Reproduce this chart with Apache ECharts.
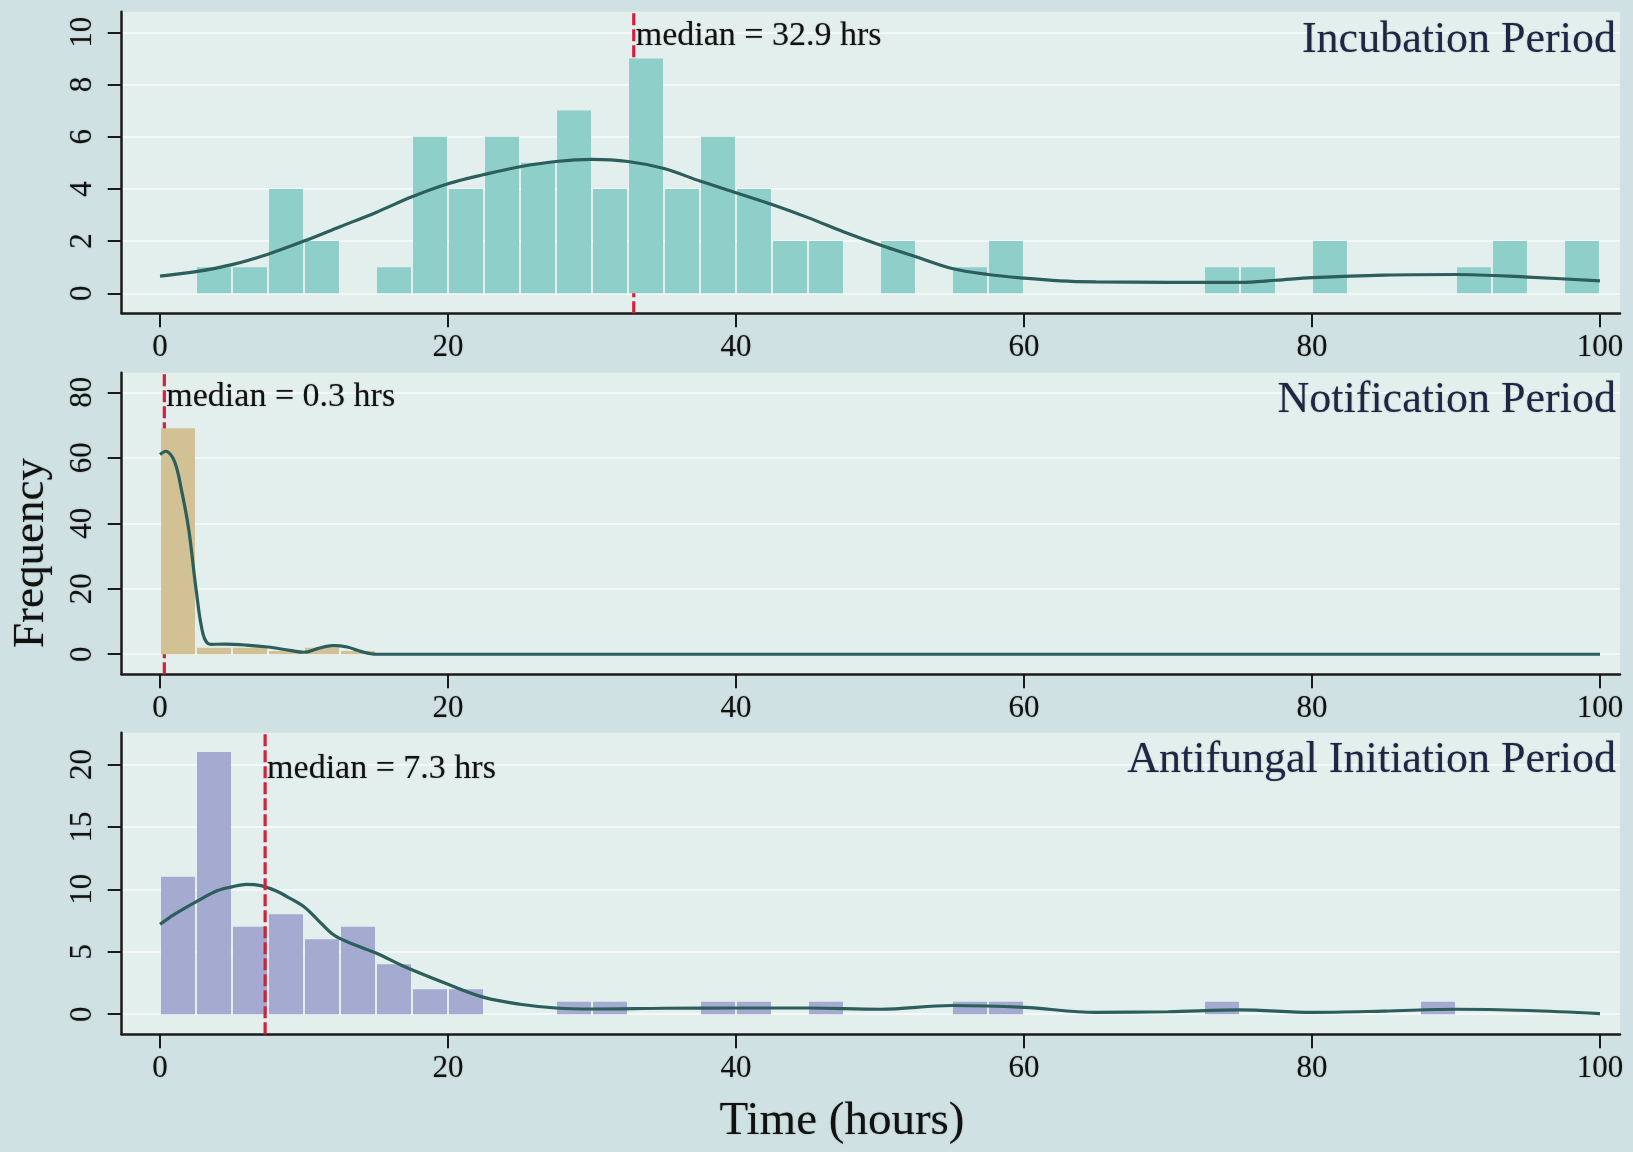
<!DOCTYPE html>
<html>
<head>
<meta charset="utf-8">
<script src="https://cdn.jsdelivr.net/npm/echarts@6/dist/echarts.min.js"></script>
<style>
html,body{margin:0;padding:0;background:#cfe1e2;}
#c{width:1633px;height:1152px;}
</style>
</head>
<body>
<div id="c"></div>
<script>
// ---------------- DATA ----------------
const BIN_WIDTH = 2.5;
const binStarts = [0,2.5,5,7.5,10,12.5,15,17.5,20,22.5,25,27.5,30,32.5,35,37.5,40,42.5,45,47.5,
                   50,52.5,55,57.5,60,62.5,65,67.5,70,72.5,75,77.5,80,82.5,85,87.5,90,92.5,95,97.5];

const incubationCounts   = [0,1,1,4,2,0,1,6,4,6,5,7,4,9,4,6,4,2,2,0,
                            2,0,1,2,0,0,0,0,0,1,1,0,2,0,0,0,1,2,0,2];
const notificationCounts = [69,2,2,1,2,1,0,0,0,0,0,0,0,0,0,0,0,0,0,0,
                            0,0,0,0,0,0,0,0,0,0,0,0,0,0,0,0,0,0,0,0];
const antifungalCounts   = [11,21,7,8,6,7,4,2,2,0,0,1,1,0,0,1,1,0,1,0,
                            0,0,1,1,0,0,0,0,0,1,0,0,0,0,0,1,0,0,0,0];

const incubationDensityX = [0,2.5,5,7.5,10,12.5,15,17.5,20,22.5,25,27.5,30,32.5,35,37.5,40,42.5,45,47.5,50,52.5,55,57.5,60,62.5,65,70,75,77.5,80,85,90,95,100];
const incubationDensityY = [0.66,0.83,1.1,1.5,2.0,2.55,3.1,3.7,4.2,4.55,4.85,5.05,5.13,5.05,4.78,4.3,3.85,3.4,2.9,2.35,1.85,1.4,0.95,0.72,0.58,0.48,0.44,0.42,0.42,0.5,0.6,0.7,0.72,0.62,0.48];

const notificationDensityX = [0,0.4,1,1.5,2,2.5,3,3.5,4.5,6,7.5,9,10,11,12,13,14,15,20,40,60,80,100];
const notificationDensityY = [61,62,59,50,38,20,6,3,3.1,2.8,2.2,1.2,0.6,1.8,2.6,2.2,0.8,0,0,0,0,0,0];

const antifungalDensityX = [0,1,2.5,4,5,6,7,8,9,10,11,12,13,15,17,20,22.5,25,27.5,30,35,40,45,50,55,60,65,70,75,80,85,90,95,100];
const antifungalDensityY = [7.2,8.0,9.0,9.9,10.2,10.4,10.3,9.9,9.3,8.6,7.5,6.4,5.8,4.9,3.8,2.4,1.35,0.8,0.5,0.42,0.48,0.5,0.5,0.4,0.7,0.55,0.15,0.2,0.35,0.15,0.25,0.4,0.3,0.05];

const medians = [32.9, 0.3, 7.3];
const medianLabels = ['median = 32.9 hrs', 'median = 0.3 hrs', 'median = 7.3 hrs'];
const panelTitles = ['Incubation Period', 'Notification Period', 'Antifungal Initiation Period'];

const xTickValues = [0,20,40,60,80,100];
const yTickValues = [[0,2,4,6,8,10],[0,20,40,60,80],[0,5,10,15,20]];

// ---------------- STYLE / LAYOUT ----------------
const FONT = '"Liberation Serif", "Times New Roman", serif';
const barColors = ['#8fcfca', '#d3c196', '#a5aad0'];
const curveColor = '#2c5e5b';
const medianColor = '#d3203c';
const axisColor = '#1a1a1a';
const textShadow = {textShadowColor: 'rgba(0,0,0,0.35)', textShadowBlur: 1.5};
const gridTops = [11.7, 372.7, 732.7];
const gridHeight = 301.6;
const gridLeft = 121.7;
const gridWidth = 1498.3;
const xRange = [-2.66, 101.39];
const yRanges = [[-0.766, 10.79], [-6.13, 86.0], [-1.606, 22.54]];
const labelOffsets = [24.5, 24.2, 36.5];
const titleCenters = [40.5, 400, 760.5];

const chart = echarts.init(document.getElementById('c'), null, {renderer: 'canvas'});

const counts = [incubationCounts, notificationCounts, antifungalCounts];
const densX = [incubationDensityX, notificationDensityX, antifungalDensityX];
const densY = [incubationDensityY, notificationDensityY, antifungalDensityY];

const grids = [], xAxes = [], yAxes = [], series = [], graphics = [];

for (let i = 0; i < 3; i++) {
  grids.push({left: gridLeft, top: gridTops[i], width: gridWidth, height: gridHeight,
    show: true, backgroundColor: '#e2efec', borderWidth: 0});
  xAxes.push({
    gridIndex: i, type: 'value', min: xRange[0], max: xRange[1],
    axisLine: {show: true, onZero: false, lineStyle: {color: axisColor, width: 2.5}},
    axisTick: {show: true, customValues: xTickValues, length: 14, lineStyle: {color: axisColor, width: 2}},
    axisLabel: Object.assign({customValues: xTickValues, fontFamily: FONT, fontSize: 31, color: '#111', margin: 19}, textShadow),
    splitLine: {show: false}
  });
  yAxes.push({
    gridIndex: i, type: 'value', min: yRanges[i][0], max: yRanges[i][1],
    axisLine: {show: true, onZero: false, lineStyle: {color: axisColor, width: 2.5}},
    axisTick: {show: true, customValues: yTickValues[i], length: 14, lineStyle: {color: axisColor, width: 2}},
    axisLabel: Object.assign({customValues: yTickValues[i], rotate: 90, fontFamily: FONT, fontSize: 31, color: '#111', margin: 23}, textShadow),
    splitLine: {show: true, lineStyle: {color: 'rgba(250,253,252,0.7)', width: 2}}
  });

  // histogram bars
  const barData = [];
  binStarts.forEach((s, k) => { if (counts[i][k] > 0) barData.push([s, s + BIN_WIDTH, counts[i][k]]); });
  const col = barColors[i];
  series.push({
    type: 'custom', xAxisIndex: i, yAxisIndex: i, z: 2,
    data: barData, encode: {x: [0, 1], y: 2},
    renderItem: function (params, api) {
      const p0 = api.coord([api.value(0), 0]);
      const p1 = api.coord([api.value(1), api.value(2)]);
      return {type: 'rect',
        shape: {x: p0[0] + 1, y: p1[1], width: p1[0] - p0[0] - 2, height: p0[1] - p1[1]},
        style: {fill: col}};
    }
  });

  // density curve
  series.push({
    type: 'line', xAxisIndex: i, yAxisIndex: i, z: 3,
    data: densX[i].map((x, k) => [x, densY[i][k]]),
    smooth: 0.35, showSymbol: false, symbol: 'none',
    lineStyle: {color: curveColor, width: 3.2}
  });

  // median dashed line
  const yr = yRanges[i];
  series.push({
    type: 'custom', xAxisIndex: i, yAxisIndex: i, z: i === 2 ? 4 : 1,
    data: [[medians[i]]], encode: {x: 0},
    renderItem: function (params, api) {
      const a = api.coord([api.value(0), yr[0]]);
      const b = api.coord([api.value(0), yr[1]]);
      return {type: 'line', shape: {x1: a[0], y1: a[1], x2: b[0], y2: b[1]},
        style: {stroke: medianColor, lineWidth: 3.2, lineDash: [12, 4]}};
    }
  });

  // median label
  const lab = medianLabels[i];
  const off = labelOffsets[i];
  series.push({
    type: 'custom', xAxisIndex: i, yAxisIndex: i, z: 6,
    data: [[medians[i]]], encode: {x: 0},
    renderItem: function (params, api) {
      const a = api.coord([api.value(0), 0]);
      return {type: 'text', x: a[0] + 2, y: params.coordSys.y + off,
        style: Object.assign({text: lab, font: '34px ' + FONT, fill: '#111', verticalAlign: 'middle', align: 'left'}, textShadow)};
    }
  });

  graphics.push({type: 'text', x: 1616, y: titleCenters[i], z: 10,
    style: Object.assign({text: panelTitles[i], font: '44px ' + FONT, fill: '#1d2645', align: 'right', verticalAlign: 'middle'}, textShadow)});
}

graphics.push({type: 'text', x: 31, y: 553, rotation: Math.PI / 2,
  style: Object.assign({text: 'Frequency', font: '45px ' + FONT, fill: '#111', align: 'center', verticalAlign: 'middle'}, textShadow)});
graphics.push({type: 'text', x: 842, y: 1122,
  style: Object.assign({text: 'Time (hours)', font: '47px ' + FONT, fill: '#111', align: 'center', verticalAlign: 'middle'}, textShadow)});

chart.setOption({
  backgroundColor: '#cfe1e2',
  animation: false,
  grid: grids, xAxis: xAxes, yAxis: yAxes, series: series, graphic: graphics
});
</script>
</body>
</html>
